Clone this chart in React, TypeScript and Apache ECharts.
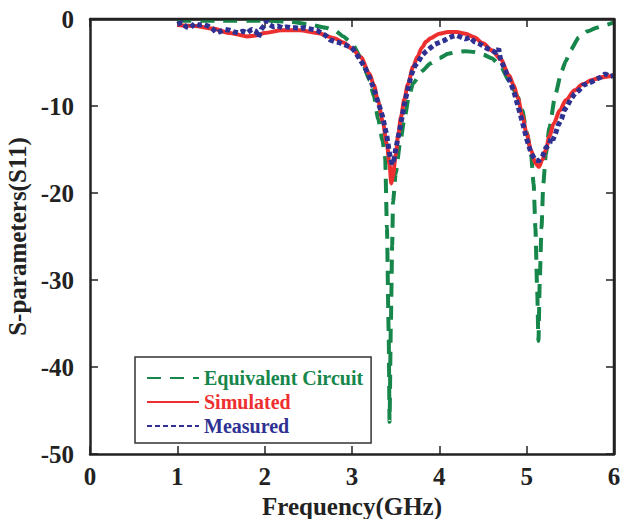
import React, { useEffect, useRef } from "react";
import * as echarts from "echarts";

// Equivalent circuit (green dashed)
const freqEq = [1.0, 1.5, 2.0, 2.3, 2.5, 2.7, 2.8, 2.9, 3.0, 3.1, 3.2, 3.25, 3.3, 3.35, 3.38, 3.4, 3.42, 3.43, 3.445, 3.46, 3.47, 3.5, 3.55, 3.6, 3.65, 3.7, 3.8, 3.9, 4.0, 4.1, 4.2, 4.3, 4.4, 4.5, 4.6, 4.7, 4.8, 4.9, 4.95, 5.0, 5.05, 5.08, 5.1, 5.12, 5.135, 5.15, 5.17, 5.19, 5.22, 5.26, 5.33, 5.4, 5.45, 5.5, 5.6, 5.7, 5.8, 5.9, 6.0];
const s11Eq = [-0.2, -0.2, -0.2, -0.3, -0.6, -1.0, -1.3, -2.0, -2.8, -4.4, -7.0, -8.8, -11.5, -14.0, -16.0, -24.0, -36.0, -46.3, -35.0, -26.0, -21.0, -17.8, -14.3, -11.5, -9.0, -7.4, -6.0, -5.1, -4.5, -4.0, -3.8, -3.7, -3.8, -4.1, -4.5, -5.4, -7.1, -9.0, -10.5, -13.0, -15.5, -19.0, -24.0, -31.0, -37.0, -30.0, -24.0, -19.0, -15.5, -12.5, -8.6, -6.0, -4.8, -3.6, -2.1, -1.4, -1.0, -0.7, -0.4];

// Simulated (red solid)
const freqSim = [1.0, 1.2, 1.4, 1.6, 1.8, 1.9, 2.0, 2.2, 2.4, 2.6, 2.8, 2.9, 3.0, 3.1, 3.2, 3.25, 3.3, 3.35, 3.4, 3.43, 3.45, 3.47, 3.5, 3.53, 3.56, 3.6, 3.64, 3.7, 3.75, 3.8, 3.85, 3.9, 4.0, 4.1, 4.2, 4.3, 4.4, 4.5, 4.6, 4.7, 4.8, 4.85, 4.9, 4.95, 5.0, 5.05, 5.1, 5.14, 5.18, 5.22, 5.26, 5.31, 5.38, 5.45, 5.55, 5.64, 5.75, 5.85, 6.0];
const s11Sim = [-0.7, -0.8, -1.1, -1.6, -2.0, -1.9, -1.6, -1.3, -1.3, -1.6, -2.2, -2.7, -3.4, -4.4, -6.3, -7.6, -9.5, -11.7, -14.4, -16.7, -18.9, -18.0, -15.6, -13.3, -11.3, -9.2, -7.5, -5.5, -4.3, -3.3, -2.6, -2.2, -1.7, -1.5, -1.5, -1.7, -2.1, -2.8, -3.6, -4.6, -6.5, -7.6, -9.1, -11.1, -13.2, -15.1, -16.6, -17.0, -16.2, -15.0, -13.5, -12.0, -10.5, -9.3, -8.2, -7.5, -7.0, -6.7, -6.5];

// Measured (blue dotted)
const freqMeas = [1.0, 1.05, 1.1, 1.15, 1.2, 1.25, 1.3, 1.35, 1.4, 1.45, 1.5, 1.55, 1.6, 1.65, 1.7, 1.75, 1.8, 1.85, 1.9, 1.93, 1.96, 2.0, 2.02, 2.05, 2.1, 2.15, 2.2, 2.25, 2.3, 2.35, 2.4, 2.45, 2.5, 2.55, 2.6, 2.65, 2.7, 2.75, 2.8, 2.85, 2.9, 2.95, 3.0, 3.05, 3.1, 3.15, 3.2, 3.25, 3.3, 3.35, 3.4, 3.43, 3.46, 3.48, 3.5, 3.53, 3.56, 3.6, 3.64, 3.68, 3.72, 3.76, 3.8, 3.85, 3.9, 3.95, 4.0, 4.05, 4.1, 4.15, 4.2, 4.25, 4.3, 4.35, 4.4, 4.45, 4.5, 4.55, 4.6, 4.65, 4.68, 4.7, 4.75, 4.8, 4.85, 4.9, 4.95, 5.0, 5.05, 5.1, 5.14, 5.18, 5.22, 5.26, 5.28, 5.3, 5.33, 5.36, 5.4, 5.43, 5.46, 5.5, 5.55, 5.6, 5.65, 5.7, 5.75, 5.8, 5.85, 5.9, 5.95, 6.0];
const s11Meas = [-0.6, -0.4, -0.9, -1.0, -0.5, -0.7, -0.6, -0.8, -1.1, -1.6, -1.4, -1.2, -1.3, -1.5, -1.6, -1.4, -1.6, -1.2, -1.4, -2.1, -1.2, -0.7, -0.2, -0.6, -0.9, -0.8, -1.0, -0.9, -1.0, -1.0, -1.1, -1.0, -1.1, -1.2, -1.3, -1.6, -1.9, -2.4, -2.6, -2.7, -2.9, -3.1, -3.3, -4.0, -4.8, -5.6, -6.7, -8.0, -9.6, -11.2, -13.5, -15.5, -16.7, -16.2, -15.0, -13.5, -12.0, -9.8, -8.0, -6.4, -5.4, -4.9, -4.2, -3.7, -3.3, -2.9, -2.7, -2.5, -2.2, -2.0, -1.9, -2.1, -2.3, -2.1, -2.6, -2.8, -3.1, -3.4, -3.6, -3.9, -3.4, -4.6, -5.8, -7.0, -8.2, -10.0, -11.8, -13.8, -15.4, -16.2, -16.3, -15.8, -14.8, -14.5, -13.6, -13.9, -13.2, -12.2, -11.5, -10.5, -10.1, -9.3, -8.6, -8.2, -7.6, -7.4, -7.2, -6.9, -6.7, -6.3, -6.6, -6.5];

const xTicks = { min: 0, max: 6, interval: 1 };
const yTicks = { min: -50, max: 0, interval: 10 };

const GREEN = "#16864a";
const RED = "#ee2f2f";
const BLUE = "#2e3192";
const INK = "#222222";
const FONT = "'Liberation Serif', 'Times New Roman', serif";

const GRID = { left: 90, right: 6, top: 19, bottom: 65 };
const W = 620;
const H = 519;
const TICK_LEN = 8;

const pairs = (xs: number[], ys: number[]) => xs.map((x, i) => [x, ys[i]]);

export default function App() {
  const ref = useRef<HTMLDivElement>(null);
  useEffect(() => {
    if (!ref.current) return;
    const chart = echarts.init(ref.current, undefined, { renderer: "svg" });
    const label = () => ({ fontFamily: FONT, fontWeight: "bold" as const, fontSize: 25, color: INK });
    const pw = W - GRID.left - GRID.right;
    const ph = H - GRID.top - GRID.bottom;

    // top and right sides of the plot box
    const frameElements = [
      {
        type: "line",
        z: 100,
        silent: true,
        shape: { x1: GRID.left, y1: GRID.top, x2: GRID.left + pw, y2: GRID.top },
        style: { stroke: INK, lineWidth: 2.5 },
      },
      {
        type: "line",
        z: 100,
        silent: true,
        shape: { x1: GRID.left + pw, y1: GRID.top, x2: GRID.left + pw, y2: GRID.top + ph },
        style: { stroke: INK, lineWidth: 2.5 },
      },
    ];

    chart.setOption({
      animation: false,
      backgroundColor: "#ffffff",
      grid: { ...GRID, outerBoundsMode: "none", containLabel: false },
      graphic: { elements: frameElements },
      legend: {
        orient: "vertical",
        left: 135,
        top: 357,
        padding: [11, 8, 7, 11],
        borderColor: "#333",
        borderWidth: 1.5,
        itemWidth: 52,
        itemHeight: 14,
        itemGap: 4,
        selectedMode: false,
        itemStyle: { opacity: 0 },
        textStyle: { fontFamily: FONT, fontWeight: "bold", fontSize: 20, lineHeight: 20 },
        data: [
          { name: "Equivalent Circuit", textStyle: { color: GREEN } },
          { name: "Simulated", textStyle: { color: RED } },
          { name: "Measured", textStyle: { color: BLUE } },
        ],
      },
      xAxis: [
        {
          type: "value",
          position: "bottom",
          ...xTicks,
          axisLine: { show: true, onZero: false, lineStyle: { color: INK, width: 2.5 } },
          axisTick: { show: true, inside: true, length: TICK_LEN, lineStyle: { color: INK, width: 1.5 } },
          splitLine: { show: false },
          axisLabel: { ...label(), margin: 10 },
          name: "Frequency(GHz)",
          nameLocation: "middle",
          nameGap: 31,
          nameTextStyle: label(),
        },
        {
          type: "value",
          position: "top",
          ...xTicks,
          axisLine: { show: true, onZero: false, lineStyle: { color: INK, width: 2.5 } },
          axisTick: { show: true, inside: true, length: TICK_LEN, lineStyle: { color: INK, width: 1.5 } },
          splitLine: { show: false },
          axisLabel: { show: false },
        },
      ],
      yAxis: [
        {
          type: "value",
          position: "left",
          ...yTicks,
          axisLine: { show: true, onZero: false, lineStyle: { color: INK, width: 2.5 } },
          axisTick: { show: true, inside: true, length: TICK_LEN, lineStyle: { color: INK, width: 1.5 } },
          splitLine: { show: false },
          axisLabel: { ...label(), margin: 16 },
          name: "S-parameters(S11)",
          nameLocation: "middle",
          nameGap: 52,
          nameTextStyle: label(),
        },
        {
          type: "value",
          position: "right",
          ...yTicks,
          axisLine: { show: true, onZero: false, lineStyle: { color: INK, width: 2.5 } },
          axisTick: { show: true, inside: true, length: TICK_LEN, lineStyle: { color: INK, width: 1.5 } },
          splitLine: { show: false },
          axisLabel: { show: false },
        },
      ],
      series: [
        {
          name: "Equivalent Circuit",
          type: "line",
          xAxisIndex: 1,
          yAxisIndex: 1,
          symbol: "none",
          smooth: 0.2,
          smoothMonotone: "x",
          data: pairs(freqEq, s11Eq),
          lineStyle: { color: GREEN, width: 4, type: [14, 9], cap: "butt" },
          itemStyle: { color: GREEN },
          z: 2,
        },
        {
          name: "Simulated",
          type: "line",
          symbol: "none",
          smooth: 0.3,
          smoothMonotone: "x",
          data: pairs(freqSim, s11Sim),
          lineStyle: { color: RED, width: 4, type: "solid" },
          itemStyle: { color: RED },
          z: 3,
        },
        {
          name: "Measured",
          type: "line",
          symbol: "none",
          data: pairs(freqMeas, s11Meas),
          lineStyle: { color: BLUE, width: 5, type: [5, 3], cap: "butt" },
          itemStyle: { color: BLUE },
          z: 4,
        },
      ],
    });

    return () => chart.dispose();
  }, []);
  return (
    <div
      ref={ref}
      style={{ position: "absolute", left: 0, top: 0, width: W, height: H, background: "#fff" }}
    />
  );
}
